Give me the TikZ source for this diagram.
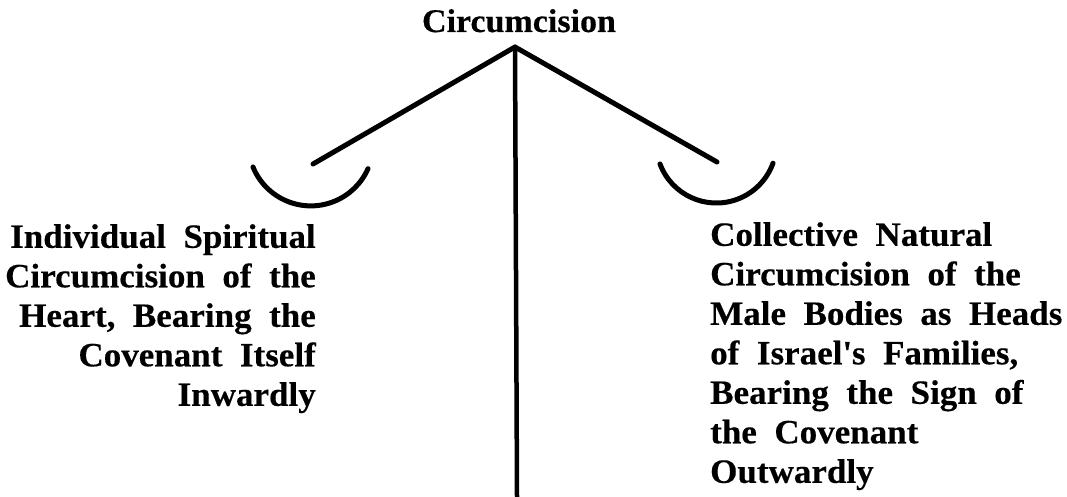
\documentclass[tikz,border=0pt]{standalone}
\usepackage{fontspec}
\setmainfont{Liberation Serif}[WordSpace=2,FakeBold=0.35,FakeStretch=1.03]
\begin{document}
\begin{tikzpicture}[x=1pt,y=-1pt,
  beam/.style={line width=5pt,line cap=round,black},
  pan/.style={line width=5pt,line cap=round,black},
  label/.style={inner sep=0pt,font=\fontsize{34}{39.5}\selectfont\bfseries},
  titlelbl/.style={inner sep=0pt,font=\fontsize{33}{38}\selectfont\bfseries}]
\useasboundingbox[fill=white] (0,0) rectangle (1067,497);
\node[titlelbl,anchor=base] (title) at (519,32) {Circumcision};
\coordinate (apex) at (515,47);
\coordinate (lend) at (313,164);
\coordinate (rend) at (717,162);
\coordinate (foot) at (517,497);
\draw[beam] (apex) -- (lend);
\draw[beam] (apex) -- (rend);
\draw[line width=4.5pt,black] (apex) -- (foot);
% pans
\draw[pan] (253,167) arc[start angle=202.2,end angle=336.1,radius=62.5pt];
\draw[pan] (660,164) arc[start angle=200.6,end angle=340.3,radius=60.2pt];
\node[label,align=right,anchor=north east] (left) at (316,224)
 {Individual Spiritual\\Circumcision of the\\Heart, Bearing the\\Covenant Itself\\Inwardly};
\node[label,align=left,anchor=north west] (right) at (710,222)
 {Collective Natural\\Circumcision of the\\Male Bodies as Heads\\of Israel\textquotesingle s Families,\\Bearing the Sign of\\the Covenant\\Outwardly};
\end{tikzpicture}
\end{document}
